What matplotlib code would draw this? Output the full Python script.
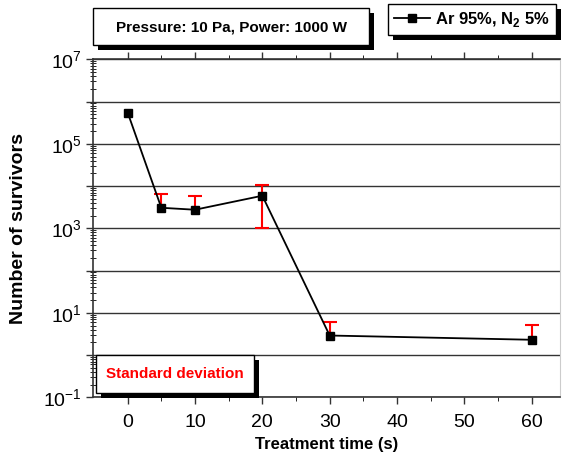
import numpy as np
import matplotlib
matplotlib.use("Agg")
import matplotlib.pyplot as plt
from matplotlib.patches import Rectangle
from matplotlib.ticker import LogLocator, FixedLocator, FuncFormatter, NullFormatter

plt.rcParams['font.family'] = ['Liberation Sans', 'DejaVu Sans']
plt.rcParams['mathtext.fontset'] = 'custom'
plt.rcParams['mathtext.rm'] = 'Liberation Sans'
plt.rcParams['mathtext.bf'] = 'Liberation Sans:bold'

# data
time_s = [0, 5, 10, 20, 30, 60]
survivors = [5.5e5, 3.06e3, 2.75e3, 5.9e3, 2.9, 2.3]
std_dev = [0, 3.6e3, 2.95e3, 4.9e3, 3.1, 2.9]
LABEL = r'Ar 95%, N$_{\mathbf{2}}$ 5%'
TITLE = "Pressure: 10 Pa, Power: 1000 W"
NOTE = "Standard deviation"

W, H = 562, 463
fig = plt.figure(figsize=(W / 100, H / 100), dpi=100)
ax = fig.add_axes([93.3 / W, 1 - 397.3 / H, (560 - 93.3) / W, (397.3 - 59.3) / H])

x = np.array(time_s)
y = np.array(survivors)
err = np.array(std_dev)
# lower half only shown where it stays positive (log scale)
lower = np.where(err < y, err, 0)
has_err = err > 0
has_low = lower > 0
ax.vlines(x[has_err], (y - lower)[has_err], (y + err)[has_err], color='red', lw=1.5, zorder=3)
ax.plot(x[has_err], (y + err)[has_err], ls='none', marker='_', ms=9.5, mew=1.5, color='red', zorder=3)
ax.plot(x[has_low], (y - lower)[has_low], ls='none', marker='_', ms=9.5, mew=1.5, color='red', zorder=3)
ax.plot(time_s, survivors, color='black', lw=1.3, marker='s', markersize=5.5,
        label=LABEL, zorder=4)

ax.set_yscale('log')
ax.set_ylim(1e-1, 1e7)
ax.set_xlim(-5.1, 64.2)

ax.yaxis.set_major_locator(LogLocator(base=10, subs=(1.0,), numticks=20))
ax.yaxis.set_minor_locator(LogLocator(base=10, subs=np.arange(2, 10), numticks=20))
ax.yaxis.set_major_formatter(FuncFormatter(
    lambda v, p: r'$\mathregular{10^{%d}}$' % round(np.log10(v)) if round(np.log10(v)) % 2 == 1 else ''))
ax.yaxis.set_minor_formatter(NullFormatter())
ax.xaxis.set_major_locator(FixedLocator([0, 10, 20, 30, 40, 50, 60]))
ax.xaxis.set_minor_locator(FixedLocator([5, 15, 25, 35, 45, 55]))

ax.grid(True, which='major', axis='y', color='#333333', lw=1.0)
ax.set_axisbelow(True)

ax.tick_params(axis='both', which='major', labelsize=14, width=1, color='#333333')
ax.tick_params(axis='x', which='both', direction='out', top=True)
ax.tick_params(axis='x', which='major', length=5, pad=7)
ax.tick_params(axis='x', which='minor', length=3)
ax.tick_params(axis='y', which='major', direction='out', length=5, pad=3)
ax.tick_params(axis='y', which='minor', direction='inout', length=4)
for s in ['left', 'bottom', 'top']:
    ax.spines[s].set_color('#333333')
    ax.spines[s].set_linewidth(1.2)
ax.spines['right'].set_color('#cccccc')

ax.set_xlabel("Treatment time (s)", fontsize=12, fontweight='bold', labelpad=4)
ax.set_ylabel("Number of survivors", fontsize=14, fontweight='bold')
ax.yaxis.set_label_coords(-0.142, 0.5)

leg = ax.legend(loc='upper right', bbox_to_anchor=(556 / W, 1 - 4 / H),
                bbox_transform=fig.transFigure, frameon=True, fancybox=False,
                framealpha=1.0, prop={'weight': 'bold', 'size': 12}, handlelength=2.2,
                borderpad=0.35, handletextpad=0.3, borderaxespad=0)
leg.get_frame().set_edgecolor('black')
leg.get_frame().set_linewidth(1.0)


def shadow_box(x0, y0, x1, y1, off=5):
    # pixel coords, y measured from top
    fig.patches.append(Rectangle((x0 + off, H - y1 - off), x1 - x0, y1 - y0,
                                 transform=None, facecolor='black', edgecolor='none', zorder=1))
    fig.patches.append(Rectangle((x0, H - y1), x1 - x0, y1 - y0, transform=None,
                                 facecolor='white', edgecolor='black', lw=1.0, zorder=2))


shadow_box(93, 8, 369, 45)
fig.text(231 / W, 1 - 27 / H, TITLE, ha='center', va='center',
         fontsize=11, fontweight='bold', zorder=3)

shadow_box(96, 355, 254, 393)
fig.text(175 / W, 1 - 374 / H, NOTE, ha='center', va='center', color='red',
         fontsize=11, fontweight='bold', zorder=5)

fig.canvas.draw()
bb = leg.get_window_extent()
fig.patches.append(Rectangle((bb.x0 + 5, bb.y0 - 5), bb.width, bb.height, transform=None,
                             facecolor='black', edgecolor='none', zorder=-1))

fig.savefig("out.png", dpi=100)
